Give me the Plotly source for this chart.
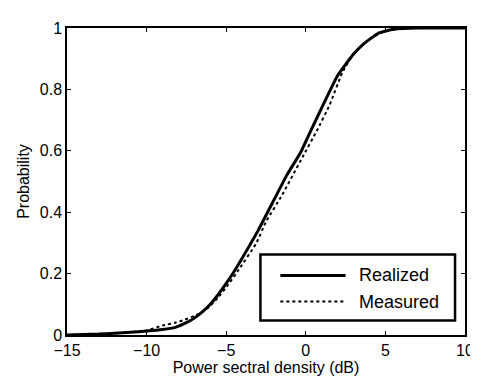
import plotly.graph_objects as go

# Data
realized_x = [-15, -13, -12, -11, -10, -9, -8.2, -7.5, -7, -6.5, -6, -5.5, -5, -4.5, -4, -3, -2, -1.2, -0.3, 0.4, 1, 2, 3, 3.6, 4.6, 5.6, 7, 10]
realized_p = [0, 0.003, 0.006, 0.009, 0.013, 0.018, 0.025, 0.04, 0.055, 0.075, 0.1, 0.132, 0.168, 0.207, 0.25, 0.34, 0.44, 0.52, 0.597, 0.675, 0.74, 0.845, 0.915, 0.947, 0.984, 0.997, 1.0, 1.0]

measured_x = [-15, -12, -10, -9, -8.2, -7.6, -7, -6.5, -6, -5.5, -5, -4.3, -3.1, -2.5, -1.5, -0.2, 0.7, 1.5, 2.3, 3, 4, 5, 6, 7, 10]
measured_p = [0, 0.005, 0.015, 0.031, 0.04, 0.05, 0.062, 0.075, 0.095, 0.123, 0.155, 0.206, 0.3, 0.369, 0.455, 0.58, 0.666, 0.75, 0.856, 0.915, 0.965, 0.99, 0.998, 1.0, 1.0]

series_names = ["Realized", "Measured"]
x_ticks = [-15, -10, -5, 0, 5, 10]
y_ticks = [0, 0.2, 0.4, 0.6, 0.8, 1]

FONT = "Liberation Sans, Arial, sans-serif"

fig = go.Figure()
fig.add_trace(go.Scatter(x=realized_x, y=realized_p, mode="lines", name=series_names[0],
                         line=dict(color="black", width=3, shape="spline", smoothing=0.4)))
fig.add_trace(go.Scatter(x=measured_x, y=measured_p, mode="lines", name=series_names[1],
                         line=dict(color="black", width=2, dash="dot", shape="spline", smoothing=0.4)))

axis_common = dict(showline=True, linecolor="black", linewidth=1.5, mirror="ticks",
                   ticks="inside", ticklen=4, tickcolor="black", showgrid=False, zeroline=False,
                   tickfont=dict(family=FONT, size=16, color="black"))

fig.update_xaxes(range=[-15, 10], tickvals=x_ticks, **axis_common,
                 title=dict(text="Power sectral density (dB)", font=dict(family=FONT, size=16, color="black"), standoff=4))
fig.update_yaxes(range=[0, 1], tickvals=y_ticks, **axis_common,
                 title=dict(text="Probability", font=dict(family=FONT, size=16, color="black"), standoff=6))

# Legend drawn as a framed box
lx0, lx1, ly0, ly1 = 0.486, 0.975, 0.047, 0.2625
fig.add_shape(type="rect", xref="paper", yref="paper", x0=lx0, x1=lx1, y0=ly0, y1=ly1,
              line=dict(color="black", width=2.5), fillcolor="white", layer="above")
rows = [(0.194, dict(color="black", width=3)), (0.109, dict(color="black", width=2, dash="dot"))]
for name, (yy, ln) in zip(series_names, rows):
    fig.add_shape(type="line", xref="paper", yref="paper", x0=0.536, x1=0.700, y0=yy, y1=yy, line=ln)
    fig.add_annotation(xref="paper", yref="paper", x=0.728, y=yy, text=name, showarrow=False,
                       xanchor="left", yanchor="middle", font=dict(family=FONT, size=18, color="black"))

fig.update_layout(width=478, height=378, showlegend=False,
                  margin=dict(l=59, r=12, t=16, b=42),
                  plot_bgcolor="white", paper_bgcolor="white")

fig.write_html("out.html")
